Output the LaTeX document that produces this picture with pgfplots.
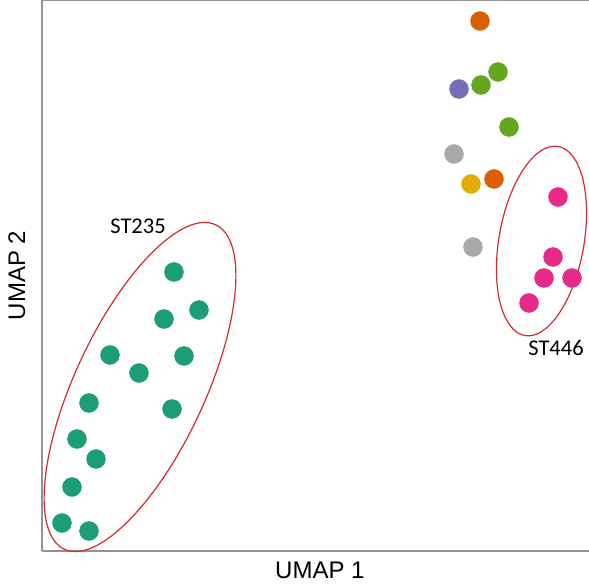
\documentclass[border=0pt]{standalone}
\usepackage{pgfplots}
\pgfplotsset{compat=1.18}
\usepackage{fontspec}
\setmainfont{Liberation Sans}
\newfontfamily\calib{Carlito}
\usetikzlibrary{calc}
\definecolor{dteal}{HTML}{1B9E77}
\definecolor{dorange}{HTML}{D95F02}
\definecolor{dpurple}{HTML}{7570B3}
\definecolor{dpink}{HTML}{E7298A}
\definecolor{dgreen}{HTML}{66A61E}
\definecolor{dyellow}{HTML}{E6AB02}
\definecolor{dgray}{HTML}{A9A9A9}
\definecolor{ringred}{HTML}{D42A2F}

\begin{document}
\begin{tikzpicture}
\begin{axis}[
  name=ax,
  scale only axis,
  width=547pt, height=551pt,
  xmin=42, xmax=589, ymin=0, ymax=551,
  axis x line*=box, axis y line*=left,
  axis line style={draw=gray!85, line width=1.5pt},
  xtick=\empty, ytick=\empty,
  xlabel={UMAP 1}, ylabel={UMAP 2},
  xlabel style={font=\fontsize{24}{24}\selectfont, at={(axis description cs:0.508,0)}, anchor=north, yshift=-7pt},
  ylabel style={font=\fontsize{24}{24}\selectfont, at={(axis description cs:0,0.5)}, anchor=south, yshift=13pt},
  clip=false,
  every axis plot/.append style={only marks, mark=*, mark size=9.5pt},
]
% ST235 cluster
\addplot[dteal, mark options={draw=none, fill=dteal}] coordinates {
  (174,279) (199,241) (164,232) (110,196) (184,195) (139,178)
  (89,148) (172,142) (77,112) (96,92) (72,64) (62,28) (89,20)
};
% ST446 cluster
\addplot[dpink, mark options={draw=none, fill=dpink}] coordinates {
  (558,354) (553,294) (544,273) (572,273) (529,248)
};
\addplot[dorange, mark options={draw=none, fill=dorange}] coordinates {(480,530) (494,372)};
\addplot[dgreen, mark options={draw=none, fill=dgreen}] coordinates {(498,479) (481,466) (509,424)};
\addplot[dpurple, mark options={draw=none, fill=dpurple}] coordinates {(459,462)};
\addplot[dgray, mark options={draw=none, fill=dgray}] coordinates {(454,397) (473,304)};
\addplot[dyellow, mark options={draw=none, fill=dyellow}] coordinates {(471,367)};

\draw[ringred, line width=1.2pt, rotate around={65:(axis cs:140,164)}]
  (axis cs:140,164) ellipse [x radius=179pt, y radius=65pt];
\draw[ringred, line width=1.2pt, rotate around={80:(axis cs:541.5,310)}]
  (axis cs:541.5,310) ellipse [x radius=96pt, y radius=42.5pt];

\node[font=\calib\fontsize{22.5}{22.5}\selectfont] at (axis cs:138,325) {ST235};
\node[font=\calib\fontsize{22.5}{22.5}\selectfont] at (axis cs:556,203) {ST446};
\end{axis}
\pgfresetboundingbox
\useasboundingbox ($(ax.south west)+(-42pt,-36pt)$) rectangle (ax.north east);
\end{tikzpicture}
\end{document}
